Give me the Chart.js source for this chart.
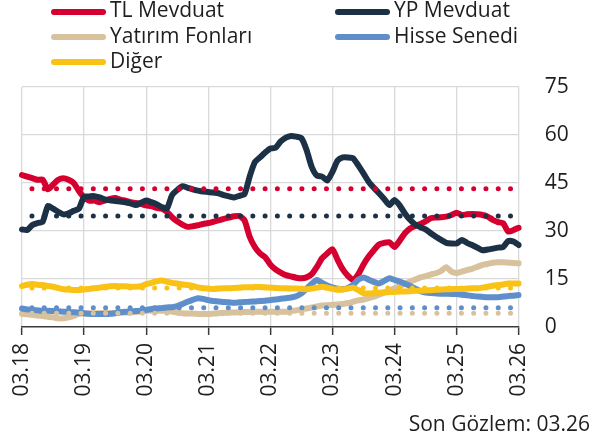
<!DOCTYPE html>
<html>
<head>
<meta charset="utf-8">
<script src="https://cdn.jsdelivr.net/npm/chart.js@4.4.1/dist/chart.umd.min.js"></script>
<style>
  html, body { margin: 0; padding: 0; background: #fff; }
  #wrap { position: relative; width: 596px; height: 440px; overflow: hidden; font-family: "Open Sans", sans-serif; color: #1e1e1e; }
  canvas { position: absolute; left: 0; top: 0; }
  .sw { position: absolute; height: 6px; border-radius: 3px; }
  .tx { position: absolute; font-size: 21px; line-height: 21px; white-space: nowrap; }
</style>
</head>
<body>
<div id="wrap">
  <canvas id="c" width="596" height="440"></canvas>
  <div id="legend"></div>
  <div class="tx" id="foot" style="right:6px;top:413px;">Son Gözlem: 03.26</div>
</div>
<script>
// ---- data ----
const seriesNames = ["TL Mevduat", "YP Mevduat", "Yatırım Fonları", "Hisse Senedi", "Diğer"];
const seriesColors = ["#D5002F", "#1C3146", "#D8C19D", "#5E8FCB", "#FAC214"];
const tickLabels = ["03.18", "03.19", "03.20", "03.21", "03.22", "03.23", "03.24", "03.25", "03.26"];

// monthly categories 03.18 ... 03.26
const months = [];
for (let y = 18; y <= 26; y++) {
  for (let m = 1; m <= 12; m++) {
    if ((y === 18 && m < 3) || (y === 26 && m > 3)) continue;
    months.push(String(m).padStart(2, "0") + "." + y);
  }
}

const tlMevduat = [47.5,47,46.5,46,46,43,44.5,46,46.5,46,
  45,42.5,40.5,39.5,39.5,39,39.5,40,40.3,39.8,
  39.5,39,38.8,38.5,38,37.8,37.2,37,36,34.3,
  33,32,31.3,31.5,31.8,32.2,32.5,32.9,33.3,33.8,
  34.2,34.6,34.7,33.4,28.2,25,23,21.8,19.5,18,
  17,16.2,15.8,15.4,15.2,15.5,16.5,18.8,21.5,23,
  24.3,21,18,16,14.7,16.5,19.5,22,24,25.8,
  26.3,26.5,25,27,29.3,30.8,31.6,32.2,33,34,
  34.2,34.3,34.5,35,35.7,35,35.2,35.3,35.2,35,
  34.5,33.5,32.8,32.4,29.8,30.3,31];

const ypMevduat = [30.5,30.3,31.9,32.5,32.9,37.8,37,36,35.2,35.5,
  36.3,37,40.7,40.8,40.9,40.5,39.9,39.6,39.4,39.2,
  39,38.6,38.1,38.8,39.5,39,38.4,37.5,37,41.2,
  42.8,44,43.5,43,42.6,42.3,42.2,42,41.8,41.2,
  40.8,40.5,41,41.5,47,51.5,53,54.5,55.8,56,
  58,59.2,59.7,59.5,59,55.3,50,47.3,47,45.8,
  48.5,52,53,53,52.7,50.5,48,45.4,43.5,41.8,
  40,38.1,39.7,38,35.5,33.5,32,31.2,30.5,29.3,
  28.2,27.2,26.3,26.1,26.1,27.2,26.3,25.6,24.8,24,
  24.2,24.5,24.8,25,26.9,26.7,25.6];

const yatirimFonlari = [4.1,4,3.8,3.6,3.4,3.2,3,2.7,2.7,3,
  3.5,4.1,4.2,4.3,4.3,4.3,4.4,4.4,4.4,4.5,
  4.5,4.5,4.7,4.9,5.1,5.1,5.1,5.1,5.1,4.8,
  4.5,4.3,4.2,4.2,4.1,4.1,4.1,4.2,4.3,4.4,
  4.5,4.5,4.6,4.7,4.7,4.8,4.8,4.8,4.8,4.8,
  4.8,4.8,5,5.2,5.5,5.8,6.1,6.4,6.7,6.8,
  6.9,7,7.2,7.5,7.9,8.3,8.6,9,9.5,10.1,
  10.8,11.5,12.1,12.8,13.6,14.2,14.8,15.5,15.9,16.4,
  16.8,17.5,18.7,17.3,16.9,17.3,17.8,18.2,18.8,19.4,
  19.7,20.1,20.2,20.2,20.1,20,19.9];

const hisseSenedi = [5.8,5.5,5.3,5.2,5.1,5.1,5,4.9,4.8,4.7,
  4.6,4.5,4.3,4.1,4.1,4.1,4.1,4.1,4.3,4.6,
  4.8,4.9,5,5.1,5.3,5.6,5.8,5.9,6.1,6.2,
  6.5,7.2,7.9,8.5,9,8.8,8.4,8.1,8,7.8,
  7.7,7.6,7.7,7.8,7.9,8,8.1,8.2,8.4,8.6,
  8.8,9,9.2,9.6,10.5,12,13.5,14.7,13.8,13,
  12.4,12,11.8,12.2,13.2,14.8,15.5,14.8,14.1,13.6,
  14.4,15.2,14.7,14.2,13.5,12.8,12,11.2,10.8,10.6,
  10.5,10.4,10.4,10.3,10.3,10.1,9.9,9.7,9.5,9.4,
  9.3,9.3,9.3,9.5,9.7,9.8,10];

const diger = [12.8,13.2,13.4,13.2,13.1,12.8,12.6,12.2,11.8,11.7,
  11.6,11.6,11.7,11.9,12.1,12.3,12.5,12.7,12.8,12.7,
  12.7,12.6,12.6,12.8,13.4,13.8,14.3,14.5,14.2,13.8,
  13.6,13.3,13.1,12.8,12.4,12.1,12,11.9,12,12.1,
  12.1,12.2,12.3,12.4,12.4,12.5,12.5,12.4,12.3,12.2,
  12.1,12.1,12,12,11.9,11.8,12,12.3,12.6,12.3,
  11.9,11.6,11.7,12,12.3,11.5,10.6,10.5,10.6,10.7,
  10.8,10.9,11,11.1,11.1,11.2,11.3,11.3,11.4,11.5,
  11.6,11.7,11.8,11.8,11.9,11.9,12,12.1,12.1,12.3,
  12.6,12.9,13.1,13.3,13.6,13.6,13.6];

// long-run averages (dotted lines)
const averages = [43.2, 34.7, 4.3, 6.0, 12.2];

const yTicks = [0, 15, 30, 45, 60, 75];

// ---- legend (HTML) ----
const legendPos = [
  {sw: 51, tx: 110, row: 0}, {sw: 335, tx: 394, row: 0},
  {sw: 51, tx: 110, row: 1}, {sw: 335, tx: 394, row: 1},
  {sw: 51, tx: 110, row: 2}
];
const rowCenters = [11.7, 36.8, 62.2];
const rowTextTop = [-0.6, 24.6, 49.7];
const lg = document.getElementById("legend");
seriesNames.forEach((n, i) => {
  const p = legendPos[i];
  const s = document.createElement("div");
  s.className = "sw";
  s.style.left = p.sw + "px";
  s.style.width = "55px";
  s.style.top = (rowCenters[p.row] - 3) + "px";
  s.style.background = seriesColors[i];
  lg.appendChild(s);
  const t = document.createElement("div");
  t.className = "tx";
  t.style.left = p.tx + "px";
  t.style.top = rowTextTop[p.row] + "px";
  t.textContent = n;
  lg.appendChild(t);
});

// ---- chart ----
const seriesData = [tlMevduat, ypMevduat, yatirimFonlari, hisseSenedi, diger];
const datasets = [];
seriesData.forEach((d, i) => {
  datasets.push({
    label: seriesNames[i],
    data: d,
    borderColor: seriesColors[i],
    borderWidth: 6,
    borderJoinStyle: "round",
    borderCapStyle: "round",
    pointRadius: 0,
    tension: 0.2,
    order: 5 - i
  });
});
averages.forEach((v, i) => {
  datasets.push({
    label: seriesNames[i] + " ort.",
    data: [{x: months[0], y: v}, {x: months[months.length - 1], y: v}],
    borderColor: seriesColors[i],
    borderWidth: 5,
    borderCapStyle: "round",
    borderDash: [0, 12.27],
    borderDashOffset: 2.3,
    pointRadius: 0,
    tension: 0,
    order: 0
  });
});

const FONT = "'Open Sans', sans-serif";
new Chart(document.getElementById("c"), {
  type: "line",
  data: { labels: months, datasets },
  options: {
    responsive: false,
    animation: false,
    devicePixelRatio: 1,
    layout: { padding: { top: 87, left: 22, right: 0, bottom: 0 } },
    plugins: { legend: { display: false }, tooltip: { enabled: false } },
    scales: {
      x: {
        type: "category",
        offset: false,
        grid: {
          color: (c) => (c.index % 12 === 0 ? "#d9d9d9" : "rgba(0,0,0,0)"),
          lineWidth: 1.3,
          tickColor: (c) => (c.index % 12 === 0 ? "#3a3a3a" : "rgba(0,0,0,0)"),
          tickWidth: 1.5,
          tickLength: 8,
          drawTicks: true
        },
        border: { display: true, color: "#3a3a3a", width: 1.5 },
        ticks: {
          autoSkip: false,
          minRotation: 90,
          maxRotation: 90,
          padding: 8,
          color: "#1e1e1e",
          font: { family: FONT, size: 21 },
          callback: (v, i) => (tickLabels.includes(months[i]) ? months[i] : "")
        },
        afterFit: (s) => { s.height = 113; }
      },
      y: {
        position: "right",
        min: 0,
        max: 75,
        afterBuildTicks: (s) => { s.ticks = yTicks.map(v => ({value: v})); },
        grid: {
          color: (c) => (c.tick && c.tick.value === 0 ? "rgba(0,0,0,0)" : "#d9d9d9"),
          lineWidth: 1.3,
          drawTicks: false
        },
        border: { display: false },
        ticks: {
          padding: 26,
          color: "#1e1e1e",
          font: { family: FONT, size: 21 }
        },
        afterFit: (s) => { s.width = 77.3; }
      }
    }
  }
});
</script>
</body>
</html>
